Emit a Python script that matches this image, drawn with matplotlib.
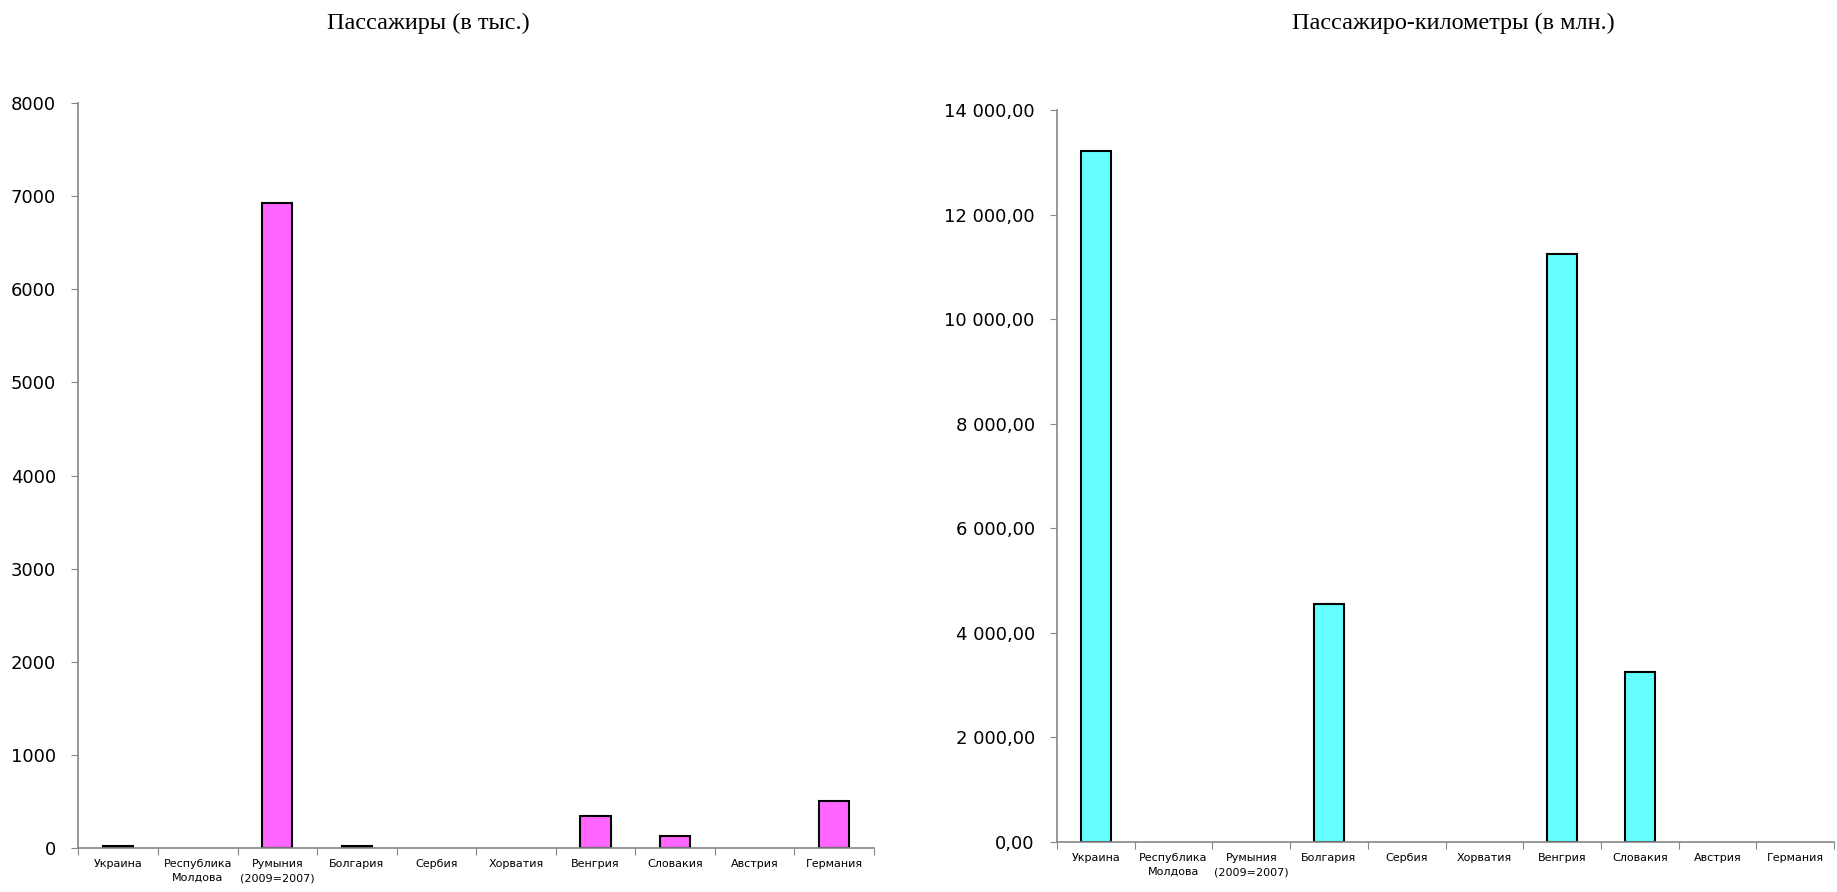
import numpy as np
import matplotlib.pyplot as plt
from matplotlib.ticker import FuncFormatter, FixedLocator

countries = ['Украина', 'Республика\nМолдова', 'Румыния\n(2009=2007)', 'Болгария', 'Сербия',
             'Хорватия', 'Венгрия', 'Словакия', 'Австрия', 'Германия']
passengers = [20, 0, 6930, 25, 0, 0, 340, 125, 0, 505]
pass_km = [13210, 0, 0, 4560, 0, 0, 11250, 3250, 0, 0]

label_font = ['Liberation Sans Narrow', 'DejaVu Sans']
title_font = ['Liberation Serif', 'DejaVu Serif']
axis_grey = '#868686'

fig = plt.figure(figsize=(18.37, 8.92), dpi=100)
ax1 = fig.add_axes([0.0427, 0.0493, 0.4331, 0.8352])
ax2 = fig.add_axes([0.5754, 0.0561, 0.4230, 0.8206])


def style_axis(ax, values, color, ymax, step, fmt):
    x = np.arange(len(values))
    bars = ax.bar(x, values, width=0.38, color=color, edgecolor='black', linewidth=1.5)
    # excel draws nothing for empty values
    for b, v in zip(bars, values):
        if v == 0:
            b.set_edgecolor('none')
    ax.set_xlim(-0.5, len(values) - 0.5)
    ax.set_ylim(0, ymax)
    ax.set_yticks(np.arange(0, ymax + 1, step))
    ax.yaxis.set_major_formatter(FuncFormatter(fmt))
    ax.xaxis.set_major_locator(FixedLocator(np.arange(-0.5, len(values), 1.0)))
    ax.xaxis.set_minor_locator(FixedLocator(x))
    ax.set_xticklabels([], minor=False)
    ax.set_xticklabels(countries, minor=True, fontsize=8, family=label_font,
                       linespacing=1.5)
    ax.tick_params(axis='x', which='major', length=5, color=axis_grey, direction='out')
    ax.tick_params(axis='x', which='minor', length=0, pad=8)
    ax.tick_params(axis='y', length=5, color=axis_grey, labelsize=13, pad=11)
    for lbl in ax.get_yticklabels():
        lbl.set_family(label_font)
    for s in ['top', 'right']:
        ax.spines[s].set_visible(False)
    for s in ['left', 'bottom']:
        ax.spines[s].set_color(axis_grey)
        ax.spines[s].set_linewidth(1.2)


def ru_fmt(v, pos):
    s = f'{v:,.2f}'.replace(',', ' ').replace('.', ',')
    return s


style_axis(ax1, passengers, '#FF66FF', 8000, 1000, lambda v, p: f'{v:.0f}')
style_axis(ax2, pass_km, '#66FFFF', 14000, 2000, ru_fmt)

fig.text(0.233, 0.974, 'Пассажиры (в тыс.)', ha='center', va='center',
         fontsize=17.5, family=title_font)
fig.text(0.791, 0.974, 'Пассажиро-километры (в млн.)', ha='center', va='center',
         fontsize=17.5, family=title_font)

fig.savefig('out.png', dpi=100)
